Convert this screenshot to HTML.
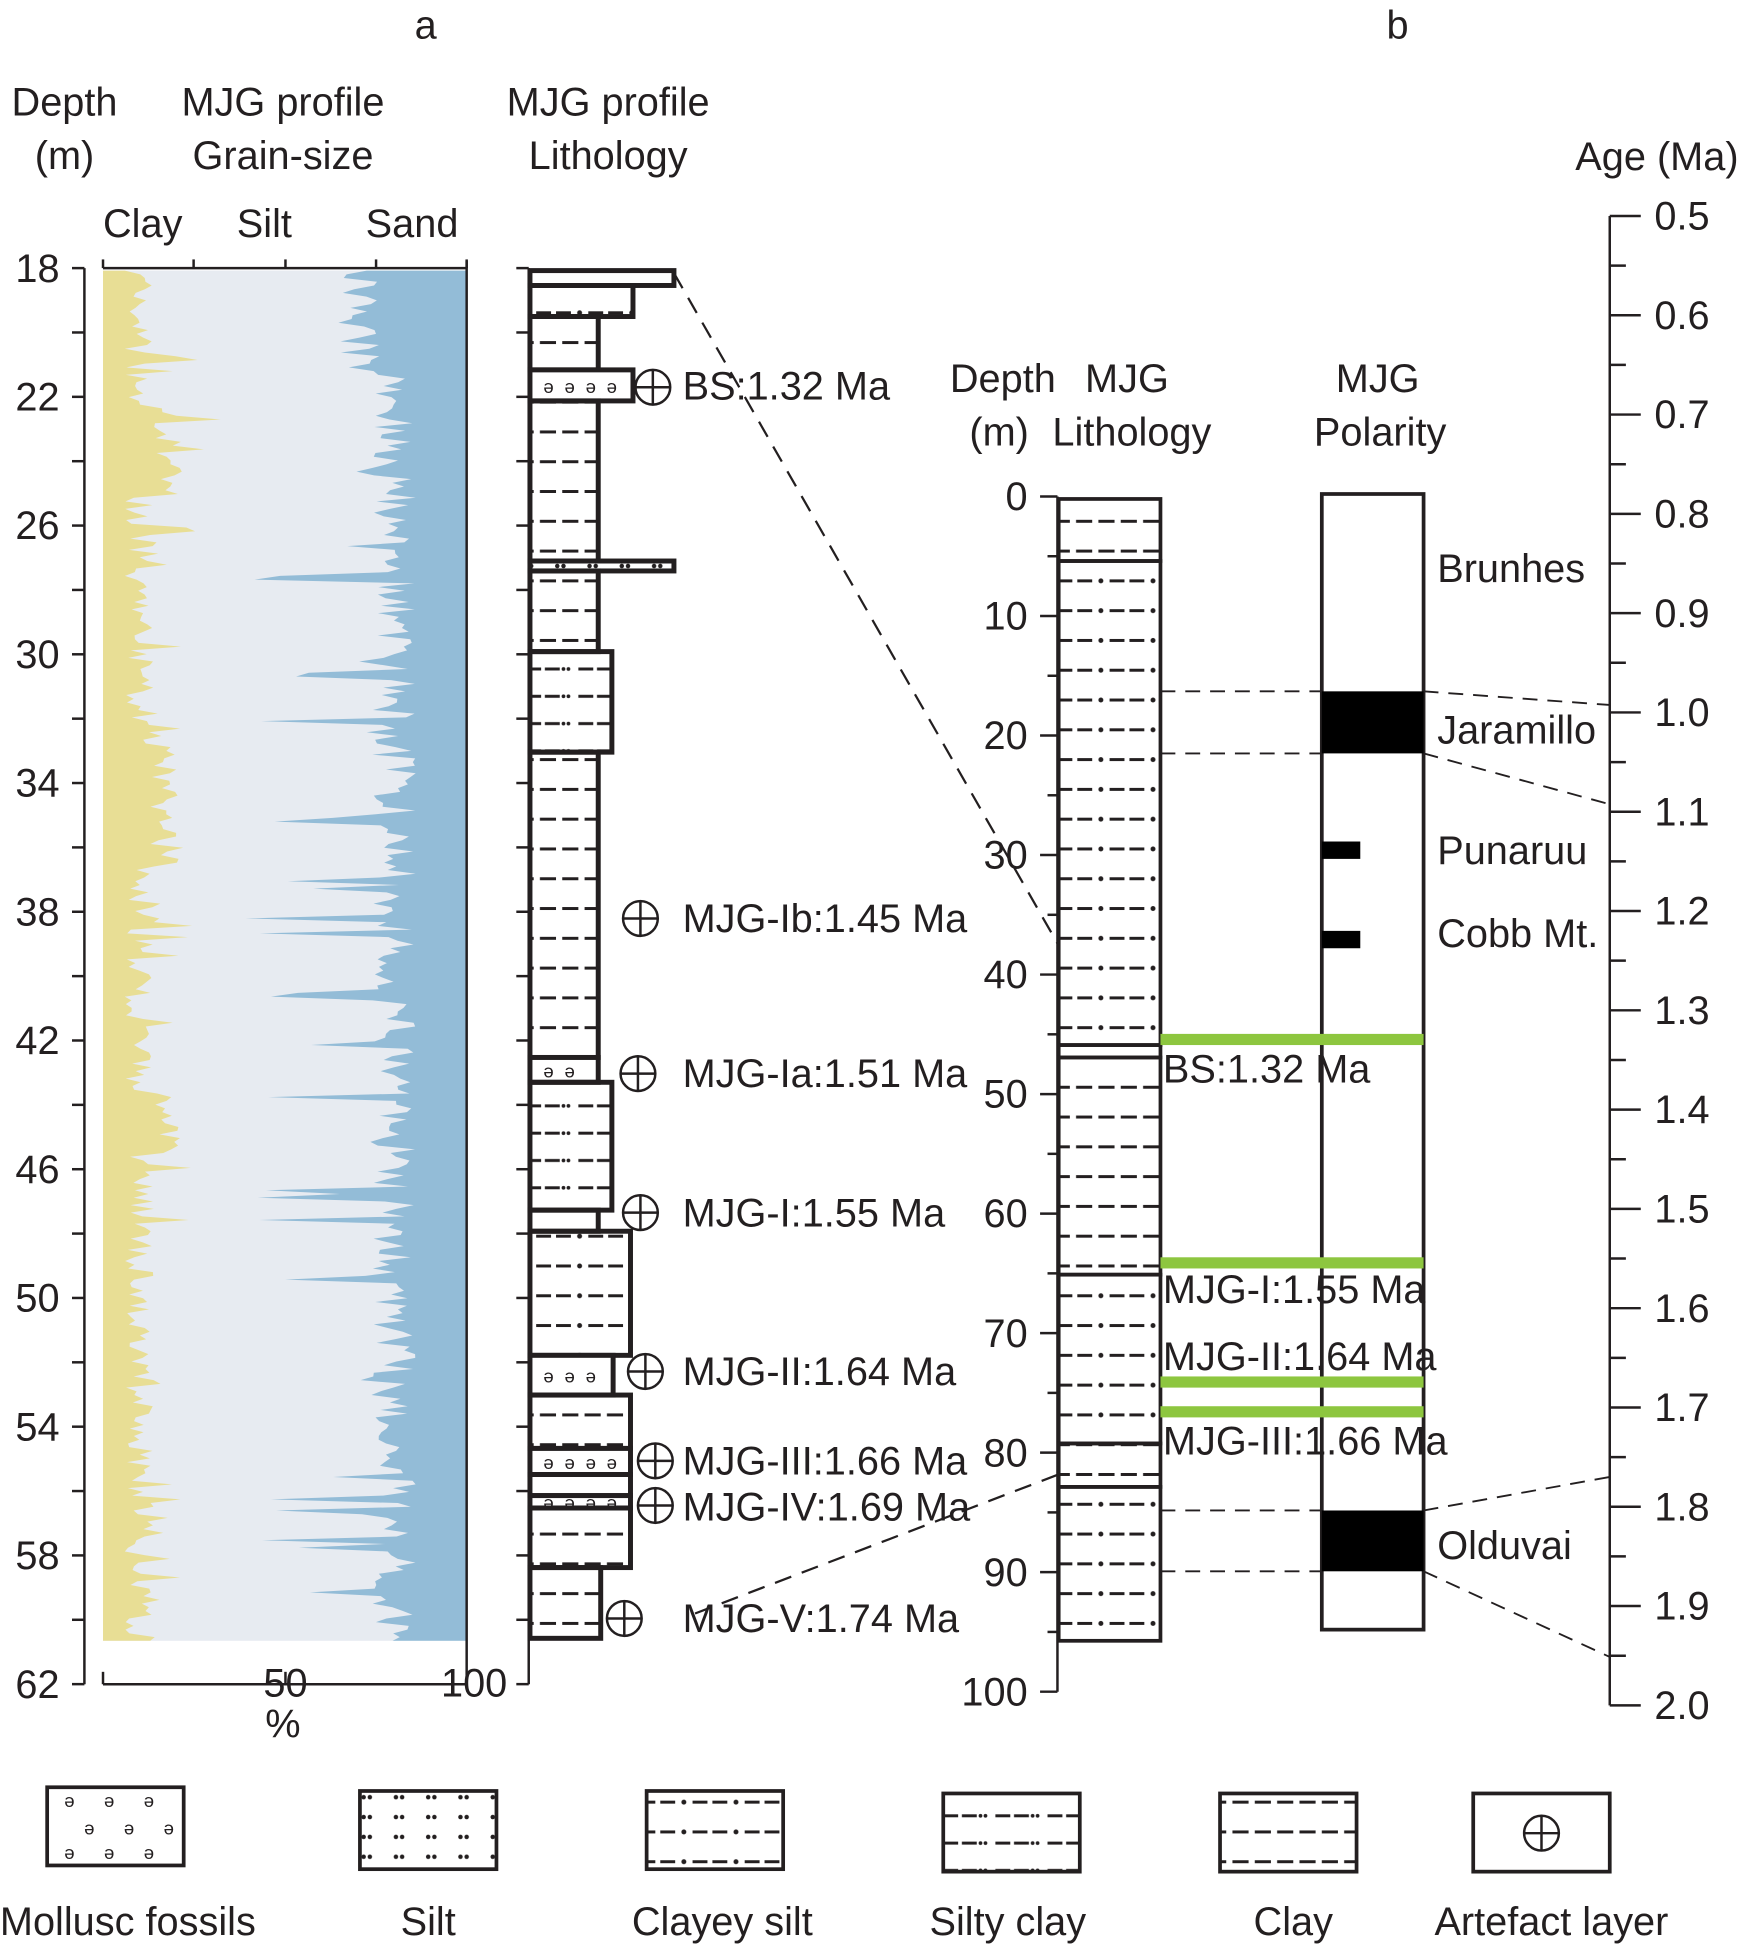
<!DOCTYPE html>
<html><head><meta charset="utf-8"><style>
html,body{margin:0;padding:0;background:#fff;}
svg{display:block;}
text{font-family:"Liberation Sans",Arial,sans-serif;fill:#231f20;}
</style></head><body>
<svg id="s" width="1750" height="1949" viewBox="0 0 1410 1570.3" xmlns="http://www.w3.org/2000/svg">
<defs>
<pattern id="clay" width="36" height="24" patternUnits="userSpaceOnUse"><path d="M3 12h13M21 12h13" stroke="#231f20" stroke-width="2.4"/></pattern>
<pattern id="csilt" width="42" height="24" patternUnits="userSpaceOnUse"><path d="M12 12h12M28 12h12" stroke="#231f20" stroke-width="2.4"/><circle cx="5" cy="12" r="2" fill="#231f20"/></pattern>
<pattern id="sclay" width="42" height="22" patternUnits="userSpaceOnUse"><path d="M4 11h12M19 11h12" stroke="#231f20" stroke-width="2.4"/><circle cx="34" cy="11" r="1.5" fill="#231f20"/><circle cx="38" cy="11" r="1.5" fill="#231f20"/></pattern>
<pattern id="silt" width="26" height="16" patternUnits="userSpaceOnUse"><circle cx="7" cy="8" r="1.8" fill="#231f20"/><circle cx="12" cy="8" r="1.8" fill="#231f20"/></pattern>
</defs>
<g id="chart"></g>
<g font-size="32">
<text x="343" y="31" text-anchor="middle">a</text>
<text x="1126" y="31" text-anchor="middle">b</text>
<text x="52" y="93" text-anchor="middle">Depth</text><text x="52" y="136" text-anchor="middle">(m)</text>
<text x="228" y="93" text-anchor="middle">MJG profile</text><text x="228" y="136" text-anchor="middle">Grain-size</text>
<text x="490" y="93" text-anchor="middle">MJG profile</text><text x="490" y="136" text-anchor="middle">Lithology</text>
<text x="115" y="191" text-anchor="middle">Clay</text><text x="213" y="191" text-anchor="middle">Silt</text><text x="332" y="191" text-anchor="middle">Sand</text>
<text x="228" y="1400" text-anchor="middle">%</text>
<text x="1335" y="137" text-anchor="middle">Age (Ma)</text>
<text x="808" y="316" text-anchor="middle">Depth</text><text x="805" y="359" text-anchor="middle">(m)</text>
<text x="908" y="316" text-anchor="middle">MJG</text><text x="912" y="359" text-anchor="middle">Lithology</text>
<text x="1110" y="316" text-anchor="middle">MJG</text><text x="1112" y="359" text-anchor="middle">Polarity</text>
<text x="1158" y="469">Brunhes</text><text x="1158" y="599">Jaramillo</text><text x="1158" y="696">Punaruu</text><text x="1158" y="763">Cobb Mt.</text><text x="1158" y="1256">Olduvai</text>
<text x="550" y="322">BS:1.32 Ma</text><text x="550" y="751">MJG-Ib:1.45 Ma</text><text x="550" y="876">MJG-Ia:1.51 Ma</text>
<text x="550" y="988">MJG-I:1.55 Ma</text><text x="550" y="1116">MJG-II:1.64 Ma</text><text x="550" y="1188">MJG-III:1.66 Ma</text>
<text x="550" y="1225">MJG-IV:1.69 Ma</text><text x="550" y="1315">MJG-V:1.74 Ma</text>
<text x="937" y="872">BS:1.32 Ma</text><text x="937" y="1050">MJG-I:1.55 Ma</text><text x="937" y="1104">MJG-II:1.64 Ma</text><text x="937" y="1172">MJG-III:1.66 Ma</text>
<text x="103" y="1559" text-anchor="middle">Mollusc fossils</text><text x="345" y="1559" text-anchor="middle">Silt</text>
<text x="582" y="1559" text-anchor="middle">Clayey silt</text><text x="812" y="1559" text-anchor="middle">Silty clay</text>
<text x="1042" y="1559" text-anchor="middle">Clay</text><text x="1250" y="1559" text-anchor="middle">Artefact layer</text>
</g>
</svg>
<script>
var g=document.getElementById('chart'),h='';
var seed=7;function r(){seed=(seed*16807)%2147483647;return seed/2147483647;}
function L(x1,y1,x2,y2,w,d){h+='<line x1="'+x1+'" y1="'+y1+'" x2="'+x2+'" y2="'+y2+'" stroke="#231f20" stroke-width="'+(w||2)+'"'+(d?' stroke-dasharray="'+d+'"':'')+'/>';}
function T(x,y,s,a,fs){h+='<text x="'+x+'" y="'+y+'" font-size="'+(fs||32)+'" text-anchor="'+(a||'end')+'">'+s+'</text>';}
var x0=83,x1=376,y0=218,y1=1322;
var ys=[],cl=[],sa=[];
for(var y=y0;y<=y1;y+=3){ys.push(y);
 var c=6+r()*8+(r()<0.12?r()*14:0); if(y>330&&y<400)c+=8; if(y>600&&y<700)c+=7; if(y>880&&y<930)c+=8; cl.push(Math.min(c,36));
 var s=14+r()*12; if(r()<0.1)s+=r()*35; if(r()<0.025)s+=35; if(y<300)s+=10; sa.push(Math.min(s,68));}
var P='M'+x0+','+y0;var Q='M'+x1+','+y0;
for(var i=0;i<ys.length;i++){P+=' L'+(x0+cl[i]*2.93)+','+ys[i];Q+=' L'+(x1-sa[i]*2.93)+','+ys[i];}
P+=' L'+x0+','+y1+'Z';Q+=' L'+x1+','+y1+'Z';
h+='<rect x="'+x0+'" y="'+y0+'" width="'+(x1-x0)+'" height="'+(y1-y0)+'" fill="#e7ebf1"/>';
h+='<path d="'+P+'" fill="#e8de95"/><path d="'+Q+'" fill="#93bcd7"/>';
L(68,216,68,1357);for(var k=0;k<=22;k++){var yy=216+k*51.86;L(58,yy,68,yy);if(k%2==0)T(48,yy+11,18+k*2);}
L(83,216,376,216);L(83,1357,376,1357);L(83,1357,83,1347);L(376,210,376,1357,2);
[83,156,230,303,376].forEach(function(x){L(x,216,x,209);});L(230,1357,230,1347);T(230,1367,'50','middle');T(382,1367,'100','middle');
L(426,216,426,1357);for(var k=0;k<=22;k++){var yy=216+k*51.86;L(416,yy,426,yy);}
var B=[[218,230,543,'silt'],[230,255,510,'csilt'],[255,298,482,'clay'],[298,323,510,'m'],[323,452,482,'clay'],[452,460,543,'silt'],[460,525,482,'clay'],[525,606,493,'sclay'],[606,852,482,'clay'],[852,872,482,'m'],[872,975,493,'sclay'],[975,992,482,'clay'],[992,1092,508,'csilt'],[1092,1124,494,'m'],[1124,1167,508,'clay'],[1167,1188,508,'m'],[1188,1205,508,'clay'],[1205,1215,508,'m'],[1215,1263,508,'clay'],[1263,1320,484,'clay']];
B.forEach(function(b){var f=b[3]=='m'?'#fff':'url(#'+b[3]+')';h+='<rect x="427" y="'+b[0]+'" width="'+(b[2]-427)+'" height="'+(b[1]-b[0])+'" fill="'+f+'" stroke="#231f20" stroke-width="4"/>';
 if(b[3]=='m'){for(var x=442;x<b[2]-10;x+=17)T(x,(b[0]+b[1])/2+6,'ə','middle',15);}});
[[526,312],[516,740],[514,865],[516,977],[520,1105],[528,1177],[528,1213],[503,1304]].forEach(function(c){h+='<circle cx="'+c[0]+'" cy="'+c[1]+'" r="14" fill="none" stroke="#231f20" stroke-width="2"/>';L(c[0]-14,c[1],c[0]+14,c[1]);L(c[0],c[1]-14,c[0],c[1]+14);});
L(543,220,852,760,1.8,'14 9');L(560,1300,858,1186,1.8,'14 9');
L(852,400,852,1363);for(var k=0;k<=20;k++){var yy=400+k*48.15;L(k%2?844:838,yy,852,yy);if(k%2==0)T(828,yy+11,k*5);}
var C=[[402,452,'clay'],[452,842,'csilt'],[842,852,'silt'],[852,1027,'clay'],[1027,1163,'csilt'],[1163,1198,'clay'],[1198,1322,'csilt']];
C.forEach(function(c){h+='<rect x="853" y="'+c[0]+'" width="82" height="'+(c[1]-c[0])+'" fill="url(#'+c[2]+')" stroke="#231f20" stroke-width="3"/>';});
h+='<rect x="1065" y="398" width="82" height="915" fill="#fff" stroke="#231f20" stroke-width="3"/>';
h+='<rect x="1065" y="557" width="82" height="50" fill="#000"/><rect x="1065" y="1217" width="82" height="49" fill="#000"/>';
h+='<rect x="1065" y="678" width="31" height="14" fill="#000"/><rect x="1065" y="750" width="31" height="14" fill="#000"/>';
[837,1017,1113,1137].forEach(function(y){h+='<rect x="935" y="'+(y-4)+'" width="212" height="9" fill="#8dc63f"/>';});
[557,607,1217,1266].forEach(function(y){L(935,y,1065,y,1.5,'12 8');});
L(1147,557,1297,568,1.5,'12 8');L(1147,607,1297,648,1.5,'12 8');L(1147,1217,1297,1190,1.5,'12 8');L(1147,1266,1297,1335,1.5,'12 8');
L(1297,174,1297,1374);for(var k=0;k<=30;k++){var yy=174+k*40;L(1297,yy,k%2?1310:1322,yy);if(k%2==0)T(1333,yy+11,(0.5+k*0.05).toFixed(1),'start');}
var lg=[[38,1440,'m'],[290,1443,'silt'],[521,1443,'csilt'],[760,1445,'sclay'],[983,1445,'clay'],[1187,1445,'a']];
lg.forEach(function(l){var f=(l[2]=='m'||l[2]=='a')?'#fff':'url(#'+l[2]+')';h+='<rect x="'+l[0]+'" y="'+l[1]+'" width="110" height="63" fill="'+f+'" stroke="#231f20" stroke-width="3"/>';
 if(l[2]=='m'){for(var i=0;i<3;i++){T(l[0]+18+i*32,l[1]+16,'ə','middle',15);T(l[0]+34+i*32,l[1]+38,'ə','middle',15);T(l[0]+18+i*32,l[1]+58,'ə','middle',15);}}
 if(l[2]=='a'){var cx=l[0]+55,cy=l[1]+32;h+='<circle cx="'+cx+'" cy="'+cy+'" r="14" fill="none" stroke="#231f20" stroke-width="2"/>';L(cx-14,cy,cx+14,cy);L(cx,cy-14,cx,cy+14);}});
g.innerHTML=h;
</script>
</body></html>
